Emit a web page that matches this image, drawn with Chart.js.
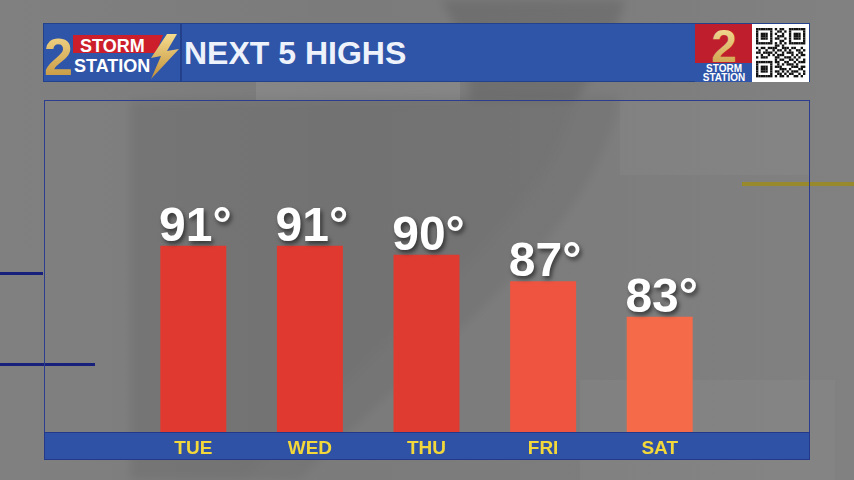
<!DOCTYPE html>
<html>
<head>
<meta charset="utf-8">
<script src="https://cdn.jsdelivr.net/npm/chart.js@4.4.1/dist/chart.umd.min.js"></script>
<style>
    html, body { margin: 0; padding: 0; }
    body {
        width: 854px; height: 480px; overflow: hidden; position: relative;
        background: linear-gradient(90deg, #808080 0%, #7b7b7b 40%, #7d7d7d 70%, #818181 100%);
        font-family: "Liberation Sans", Arial, sans-serif;
    }
    .abs { position: absolute; }
    #header { left: 43px; top: 23px; width: 767px; height: 59px; background: #2f55a9; border: 1px solid #24428c; box-sizing: border-box; }
    #sep { left: 180px; top: 23px; width: 2px; height: 59px; background: #22418a; }
    #title { left: 184px; top: 35px; font-size: 32px; font-weight: bold; color: #eef2fb; }
    #panel { left: 44px; top: 100px; width: 766px; height: 360px; border: 1px solid #2c3d8e; box-sizing: border-box; }
    #band { left: 44px; top: 432px; width: 766px; height: 28px; background: #3052a6; border: 1px solid #25398a; box-sizing: border-box; }
    .navy { background: #17207a; height: 3px; }
    #gold { left: 742px; top: 182px; width: 112px; height: 4px; background: #988a2c; }
    #chart { left: 0; top: 0; }
</style>
</head>
<body>
<!-- soft shape of the big "2" behind the panel -->
<svg class="abs" style="left:0;top:0" width="854" height="480">
    <defs>
        <filter id="soft"><feGaussianBlur stdDeviation="5"/></filter>
    </defs>
    <g filter="url(#soft)">
        <path d="M130,100 L575,95 C560,200 430,300 245,480 L130,480 Z" fill="rgba(0,0,0,0.07)"/>
        <path d="M440,0 L625,0 C615,40 600,70 575,100 L470,100 C470,60 455,20 440,0 Z" fill="rgba(0,0,0,0.10)"/>
        <path d="M575,95 C560,200 430,300 245,480 L300,480 C440,340 600,230 620,95 Z" fill="rgba(0,0,0,0.05)"/>
    </g>
    <rect x="256" y="82" width="204" height="18" fill="rgba(255,255,255,0.08)"/>
    <rect x="620" y="100" width="190" height="75" fill="rgba(255,255,255,0.03)"/>
    <rect x="580" y="380" width="255" height="100" fill="rgba(255,255,255,0.03)"/>
</svg>
<div class="abs navy" style="left:0;top:272px;width:43px;"></div>
<div class="abs navy" style="left:0;top:363px;width:95px;"></div>
<div id="gold" class="abs"></div>
<div id="panel" class="abs"></div>
<div id="band" class="abs"></div>

<div id="header" class="abs"></div>
<div id="sep" class="abs"></div>
<!-- station logo, left -->
<svg class="abs" style="left:43px;top:23px" width="138" height="59">
    <defs>
        <linearGradient id="gld" x1="0" y1="0" x2="0" y2="1">
            <stop offset="0" stop-color="#f6dc8e"/>
            <stop offset="1" stop-color="#c08f38"/>
        </linearGradient>
    </defs>
    <polygon points="30,12 120,12 113,30 30,30" fill="#cc1f2b"/>
    <text x="1" y="52" font-family="Liberation Sans, Arial" font-weight="bold" font-size="52" fill="url(#gld)">2</text>
    <text x="37" y="29" font-family="Liberation Sans, Arial" font-weight="bold" font-size="18" fill="#ffffff">STORM</text>
    <text x="31" y="49" font-family="Liberation Sans, Arial" font-weight="bold" font-size="18" fill="#ffffff">STATION</text>
    <polygon points="124,11 134,11 124,28 136,26 108,56 118,33 108,35" fill="url(#gld)"/>
</svg>
<div id="title" class="abs">NEXT 5 HIGHS</div>
<!-- station logo, right -->
<svg class="abs" style="left:695px;top:24px" width="58" height="58">
    <defs>
        <linearGradient id="gld2" x1="0" y1="0" x2="0" y2="1">
            <stop offset="0" stop-color="#f8e3a0"/>
            <stop offset="1" stop-color="#c99a42"/>
        </linearGradient>
    </defs>
    <rect x="0" y="0" width="58" height="39" fill="#bf1f2c"/>
    <rect x="0" y="39" width="58" height="19" fill="#2f55a9"/>
    <text x="29" y="38" text-anchor="middle" font-family="Liberation Sans, Arial" font-weight="bold" font-size="46" fill="url(#gld2)">2</text>
    <text x="29" y="48" text-anchor="middle" font-family="Liberation Sans, Arial" font-weight="bold" font-size="10" fill="#ffffff">STORM</text>
    <text x="29" y="57" text-anchor="middle" font-family="Liberation Sans, Arial" font-weight="bold" font-size="10" fill="#ffffff">STATION</text>
</svg>
<canvas id="qr" class="abs" style="left:752px;top:24px" width="57" height="58"></canvas>

<canvas id="chart" class="abs" width="854" height="480"></canvas>

<script>
// Next 5 highs
const days = ['TUE', 'WED', 'THU', 'FRI', 'SAT'];
const highs = [91, 91, 90, 87, 83];
const yRange = [70, 100];

const barColors = ['#e03a30', '#e03a30', '#e03b31', '#ee5440', '#f56a48'];
const fontFamily = '"Liberation Sans", Arial, sans-serif';

// fixed QR-like pattern for the logo box
const qrRows = [
    '111111101011001111111',
    '100000100110101000001',
    '101110101001001011101',
    '101110100111001011101',
    '101110101100101011101',
    '100000100011001000001',
    '111111101010101111111',
    '000000001101000000000',
    '101101111001110110010',
    '010010010110101001101',
    '110111101001011100110',
    '001001010111000101011',
    '101110001100111010100',
    '000000001011001101001',
    '111111101100110010111',
    '100000100101011101000',
    '101110101110000111011',
    '101110100011101000110',
    '101110101101010111001',
    '100000100110101100101',
    '111111101011010011010'
];

function drawQr() {
    const c = document.getElementById('qr');
    const q = c.getContext('2d');
    q.fillStyle = '#ffffff';
    q.fillRect(0, 0, c.width, c.height);
    q.fillStyle = '#111111';
    const cell = 2.35;
    qrRows.forEach((row, r) => {
        for (let k = 0; k < row.length; k++) {
            if (row[k] === '1') q.fillRect(4 + k * cell, 4 + r * cell, cell, cell);
        }
    });
}

// white temperature labels above the bars
const valueLabels = {
    id: 'valueLabels',
    afterDatasetsDraw(chart) {
        const ctx = chart.ctx;
        const meta = chart.getDatasetMeta(0);
        ctx.save();
        ctx.font = 'bold 48px ' + fontFamily;
        ctx.textAlign = 'center';
        ctx.textBaseline = 'alphabetic';
        ctx.fillStyle = '#ffffff';
        ctx.shadowColor = 'rgba(0, 0, 0, 0.55)';
        ctx.shadowOffsetX = 2;
        ctx.shadowOffsetY = 3;
        ctx.shadowBlur = 4;
        meta.data.forEach((bar, i) => {
            ctx.fillText(highs[i] + '°', bar.x + 2, bar.y - 5);
        });
        ctx.restore();
    }
};

document.addEventListener('DOMContentLoaded', function() {
    drawQr();

    const ctx = document.getElementById('chart').getContext('2d');
    new Chart(ctx, {
        type: 'bar',
        data: {
            labels: days,
            datasets: [{
                data: highs,
                backgroundColor: barColors,
                borderWidth: 0,
                barPercentage: 0.566,
                categoryPercentage: 1.0
            }]
        },
        options: {
            responsive: false,
            animation: false,
            layout: {
                padding: { left: 135, right: 136, top: 166, bottom: 0 }
            },
            scales: {
                x: {
                    grid: { display: false, drawTicks: false },
                    border: { display: false },
                    ticks: {
                        color: '#f2d83a',
                        padding: 5,
                        font: { family: fontFamily, size: 19, weight: 'bold' }
                    },
                    afterFit(scale) { scale.height = 48; }
                },
                y: {
                    display: false,
                    min: yRange[0],
                    max: yRange[1]
                }
            },
            plugins: {
                legend: { display: false },
                tooltip: { enabled: false }
            }
        },
        plugins: [valueLabels]
    });
});
</script>
</body>
</html>
